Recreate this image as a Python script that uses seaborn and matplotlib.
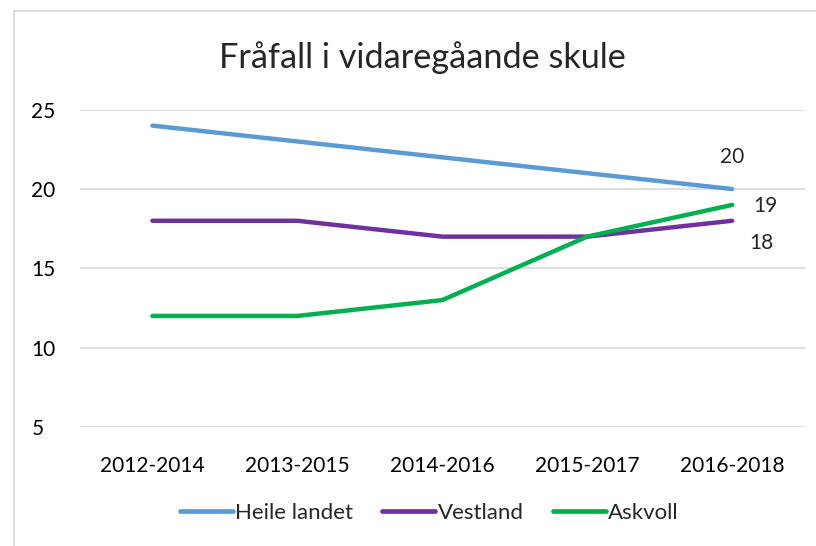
import pandas as pd
import matplotlib.pyplot as plt
import seaborn as sns
from matplotlib.lines import Line2D

periods = ['2012-2014', '2013-2015', '2014-2016', '2015-2017', '2016-2018']
heile_landet = [24, 23, 22, 21, 20]
vestland = [18, 18, 17, 17, 18]
askvoll = [12, 12, 13, 17, 19]
series_names = ['Heile landet', 'Vestland', 'Askvoll']
colors = ['#5B9BD5', '#7030A0', '#00B050']

df = pd.DataFrame({'Periode': periods, 'Heile landet': heile_landet,
                   'Vestland': vestland, 'Askvoll': askvoll})
long = df.melt(id_vars='Periode', var_name='Serie', value_name='Verdi')

sns.set_theme(style='white')
plt.rcParams['font.family'] = ['Lato', 'DejaVu Sans']

fig = plt.figure(figsize=(8.16, 5.46), dpi=100)
ax = fig.add_axes([0.098, 0.218, 0.888, 0.581])

sns.lineplot(data=long, x='Periode', y='Verdi', hue='Serie', hue_order=series_names,
             palette=colors, linewidth=3.2, ax=ax, legend=False, sort=False)
for ln in ax.lines:
    ln.set_solid_capstyle('round')

ax.set_ylim(5, 25)
ax.set_xlim(-0.5, 4.5)
ax.set_yticks([5, 10, 15, 20, 25])
ax.yaxis.grid(True, color='#d9d9d9', linewidth=1.2)
ax.set_axisbelow(True)
for s in ax.spines.values():
    s.set_visible(False)
ax.set_xlabel('')
ax.set_ylabel('')
ax.tick_params(axis='both', length=0, labelsize=15, colors='#000000')
ax.tick_params(axis='x', pad=21)
ax.tick_params(axis='y', pad=35)
for lbl in ax.get_yticklabels():
    lbl.set_horizontalalignment('left')

# data labels at the last point
last = len(periods) - 1
ax.annotate(str(heile_landet[-1]), (last, heile_landet[-1]), xytext=(0, 23),
            textcoords='offset points', ha='center', va='center', fontsize=15)
ax.annotate(str(askvoll[-1]), (last, askvoll[-1]), xytext=(15, -1),
            textcoords='offset points', ha='left', va='center', fontsize=15)
ax.annotate(str(vestland[-1]), (last, vestland[-1]), xytext=(12, -16),
            textcoords='offset points', ha='left', va='center', fontsize=15)

fig.text(0.518, 0.895, 'Fråfall i vidaregåande skule', ha='center', va='center', fontsize=24.7)

handles = [Line2D([0], [0], color=c, linewidth=3.4) for c in colors]
fig.legend(handles, series_names, loc='center', bbox_to_anchor=(0.526, 0.06), ncol=3,
           frameon=False, fontsize=16, handlelength=2.4, handletextpad=0.1, columnspacing=1.3)

# chart area border (left and top visible)
fig.add_artist(Line2D([0.017, 0.017], [0, 0.98], color='#d9d9d9', linewidth=1.2))
fig.add_artist(Line2D([0.017, 1.0], [0.98, 0.98], color='#d9d9d9', linewidth=1.2))

fig.savefig('out.png', dpi=100)
